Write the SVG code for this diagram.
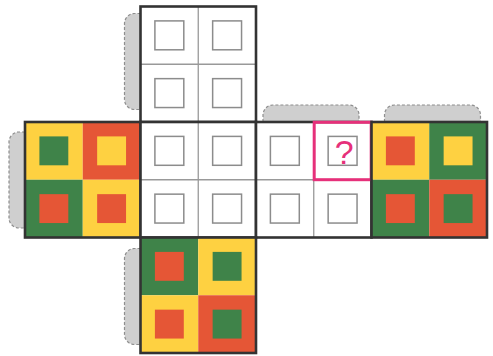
<svg xmlns="http://www.w3.org/2000/svg" width="493" height="356" viewBox="0 0 493 356">
<style>
.bg{fill:#ffffff}
.y{fill:#FED141}
.r{fill:#E55636}
.g{fill:#3F8349}
.grid{stroke:#999999;stroke-width:1.3;fill:none}
.sq{fill:#ffffff;stroke:#8c8c8c;stroke-width:1.5}
.border{fill:none;stroke:#333333;stroke-width:2.6}
.tab{fill:#cfcfcf;stroke:#8e8e8e;stroke-width:1.2;stroke-dasharray:3 2}
.hl{fill:none;stroke:#E6307A;stroke-width:3}
.q{fill:#E6307A;font-family:"Liberation Sans",Arial,sans-serif;font-size:34px;text-anchor:middle}
</style>
<defs>
<g id="white">
<rect class="bg" x="0" y="0" width="115.5" height="115.5"/>
<path class="grid" d="M57.75,0V115.5M0,57.75H115.5"/>
<rect class="sq" x="14.4" y="14.4" width="28.9" height="28.9"/>
<rect class="sq" x="72.15" y="14.4" width="28.9" height="28.9"/>
<rect class="sq" x="14.4" y="72.15" width="28.9" height="28.9"/>
<rect class="sq" x="72.15" y="72.15" width="28.9" height="28.9"/>
</g>
<path id="tabL" class="tab" d="M0,0H-6A10,10 0 0 0 -16,10V86A10,10 0 0 0 -6,96H0"/>
<path id="tabT" class="tab" d="M0,0V-7A10,10 0 0 1 10,-17H86A10,10 0 0 1 96,-7V0"/>
</defs>

<g id="face-top" transform="translate(140.5,6.5)">
<use href="#tabL" x="0" y="7"/>
<use href="#white"/>
<rect class="border" x="0" y="0" width="115.5" height="115.5"/>
</g>

<g id="face-left" transform="translate(25,122)">
<use href="#tabL" x="0" y="10"/>
<rect class="y" x="0" y="0" width="57.75" height="57.75"/>
<rect class="r" x="57.75" y="0" width="57.75" height="57.75"/>
<rect class="g" x="0" y="57.75" width="57.75" height="57.75"/>
<rect class="y" x="57.75" y="57.75" width="57.75" height="57.75"/>
<rect class="g" x="14.4" y="14.4" width="28.9" height="28.9"/>
<rect class="y" x="72.15" y="14.4" width="28.9" height="28.9"/>
<rect class="r" x="14.4" y="72.15" width="28.9" height="28.9"/>
<rect class="r" x="72.15" y="72.15" width="28.9" height="28.9"/>
<rect class="border" x="0" y="0" width="115.5" height="115.5"/>
</g>

<g id="face-front" transform="translate(140.5,122)">
<use href="#white"/>
<rect class="border" x="0" y="0" width="115.5" height="115.5"/>
</g>

<g id="face-right" transform="translate(256,122)">
<use href="#tabT" x="7" y="0"/>
<use href="#white"/>
<rect class="border" x="0" y="0" width="115.5" height="115.5"/>
<rect class="hl" x="58.2" y="0.3" width="57" height="57.4"/>
<text class="q" x="88.3" y="42">?</text>
</g>

<g id="face-back" transform="translate(371.5,122)">
<use href="#tabT" x="13" y="0"/>
<rect class="y" x="0" y="0" width="57.75" height="57.75"/>
<rect class="g" x="57.75" y="0" width="57.75" height="57.75"/>
<rect class="g" x="0" y="57.75" width="57.75" height="57.75"/>
<rect class="r" x="57.75" y="57.75" width="57.75" height="57.75"/>
<rect class="r" x="14.4" y="14.4" width="28.9" height="28.9"/>
<rect class="y" x="72.15" y="14.4" width="28.9" height="28.9"/>
<rect class="r" x="14.4" y="72.15" width="28.9" height="28.9"/>
<rect class="g" x="72.15" y="72.15" width="28.9" height="28.9"/>
<rect class="border" x="0" y="0" width="115.5" height="115.5"/>
</g>

<g id="face-bottom" transform="translate(140.5,237.5)">
<use href="#tabL" x="0" y="11"/>
<rect class="g" x="0" y="0" width="57.75" height="57.75"/>
<rect class="y" x="57.75" y="0" width="57.75" height="57.75"/>
<rect class="y" x="0" y="57.75" width="57.75" height="57.75"/>
<rect class="r" x="57.75" y="57.75" width="57.75" height="57.75"/>
<rect class="r" x="14.4" y="14.4" width="28.9" height="28.9"/>
<rect class="g" x="72.15" y="14.4" width="28.9" height="28.9"/>
<rect class="r" x="14.4" y="72.15" width="28.9" height="28.9"/>
<rect class="g" x="72.15" y="72.15" width="28.9" height="28.9"/>
<rect class="border" x="0" y="0" width="115.5" height="115.5"/>
</g>
</svg>
